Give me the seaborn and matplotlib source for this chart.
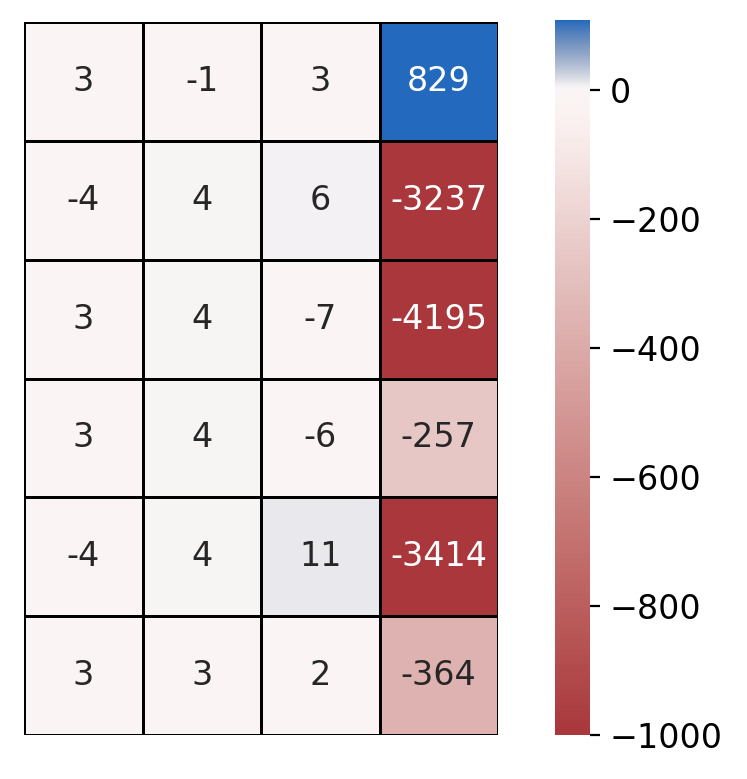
import numpy as np
import pandas as pd
import seaborn as sns
import matplotlib.pyplot as plt
from matplotlib.colors import ListedColormap

plt.switch_backend('Agg')

# cell values, row by row (6 rows x 4 columns)
row1 = [3, -1, 3, 829]
row2 = [-4, 4, 6, -3237]
row3 = [3, 4, -7, -4195]
row4 = [3, 4, -6, -257]
row5 = [-4, 4, 11, -3414]
row6 = [3, 3, 2, -364]

cbar_ticks = [0, -200, -400, -600, -800, -1000]

VMIN, VMAX, CENTER = -1000, 108, 3.4


def make_cmap(n=4096):
    """vlag_r stretched so the white point sits at CENTER on a linear bar."""
    base = sns.color_palette("vlag_r", as_cmap=True)
    v = np.linspace(VMIN, VMAX, n)
    lo = 0.5 * (v - VMIN) / (CENTER - VMIN)
    hi = 0.515 + 0.485 * np.clip((v - CENTER) / (VMAX - CENTER), 0, 1) ** 0.9
    t = np.where(v < CENTER, lo, hi)
    return ListedColormap(base(t))


def main():
    data = pd.DataFrame([row1, row2, row3, row4, row5, row6])

    fig = plt.figure(figsize=(7.47 / 2, 7.79 / 2), dpi=200)
    plt.rcParams['font.size'] = 12
    ax = fig.add_axes([24 / 747, 44 / 779, 474 / 747, 713 / 779])
    cax = fig.add_axes([555 / 747, 44 / 779, 35 / 747, 715 / 779])

    sns.heatmap(data, ax=ax, cbar_ax=cax, cmap=make_cmap(),
                vmin=VMIN, vmax=VMAX, annot=True, fmt='d',
                annot_kws={'size': 12},
                linewidths=1, linecolor='black',
                xticklabels=False, yticklabels=False,
                cbar_kws={'ticks': cbar_ticks})
    cax.tick_params(labelsize=12)

    fig.savefig('out.png', dpi=200)
    plt.close(fig)


if __name__ == "__main__":
    main()
